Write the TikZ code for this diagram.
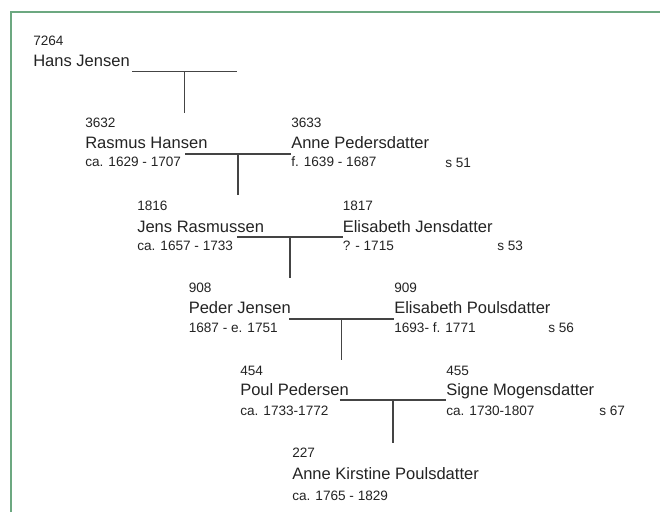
\documentclass[tikz,border=0pt]{standalone}
\usepackage{fontspec}
\setmainfont{Liberation Sans}
\usetikzlibrary{calc}
\definecolor{framegreen}{RGB}{108,168,128}
\definecolor{inkgray}{RGB}{35,35,35}
\tikzset{
  idnum/.style={anchor=base west,inner sep=0pt,font=\fontsize{10.2}{12}\selectfont,text=inkgray},
  person/.style={anchor=base west,inner sep=0pt,font=\fontsize{12.4}{14}\selectfont,text=inkgray},
  lifespan/.style={idnum},
  spage/.style={idnum},
  tline/.style={draw=inkgray!85,line width=1.3pt}
}
\begin{document}
\begin{tikzpicture}[x=0.75pt,y=-0.75pt]
\useasboundingbox (0,0) rectangle (660,512);
\draw[framegreen,line width=1.5pt] (11,512) -- (11,12) -- (660,12);

% generation 1
\node[idnum] (n7264) at (33,45) {7264};
\node[person] (p7264) at (33,66) {Hans Jensen};
\coordinate (l7264) at (132,71.5);
\coordinate (r7264) at (237,71.5);

% generation 2
\node[idnum] (n3632) at (85,127.5) {3632};
\node[person] (p3632) at (85,148.5) {Rasmus Hansen};
\node[lifespan] (d3632) at (85,166.5) {ca. 1629 - 1707};
\node[idnum] (n3633) at (291,127.5) {3633};
\node[person] (p3633) at (291,148.5) {Anne Pedersdatter};
\node[lifespan] (d3633) at (291,166.5) {f. 1639 - 1687};
\node[spage] (s3633) at (445,167.5) {s 51};
\coordinate (l3632) at (185,154);

% generation 3
\node[idnum] (n1816) at (137,210) {1816};
\node[person] (p1816) at (137,232) {Jens Rasmussen};
\node[lifespan] (d1816) at (137,250) {ca. 1657 - 1733};
\node[idnum] (n1817) at (342.5,210) {1817};
\node[person] (p1817) at (342.5,232) {Elisabeth Jensdatter};
\node[lifespan] (d1817) at (342.5,250) {? - 1715};
\node[spage] (s1817) at (497,250) {s 53};
\coordinate (l1816) at (237,237);

% generation 4
\node[idnum] (n908) at (188.5,292.5) {908};
\node[person] (p908) at (188.5,313.5) {Peder Jensen};
\node[lifespan] (d908) at (188.5,332) {1687 - e. 1751};
\node[idnum] (n909) at (394,292.5) {909};
\node[person] (p909) at (394,313.5) {Elisabeth Poulsdatter};
\node[lifespan] (d909) at (394,332) {1693- f. 1771};
\node[spage] (s909) at (548,332.5) {s 56};
\coordinate (l908) at (289,319);

% generation 5
\node[idnum] (n454) at (240,375) {454};
\node[person] (p454) at (240,395.5) {Poul Pedersen};
\node[lifespan] (d454) at (240,415) {ca. 1733-1772};
\node[idnum] (n455) at (446,375) {455};
\node[person] (p455) at (446,395.5) {Signe Mogensdatter};
\node[lifespan] (d455) at (446,415) {ca. 1730-1807};
\node[spage] (s455) at (599,415) {s 67};
\coordinate (l454) at (339.5,400);

% generation 6
\node[idnum] (n227) at (292,457.5) {227};
\node[person] (p227) at (292,479) {Anne Kirstine Poulsdatter};
\node[lifespan] (d227) at (292,500) {ca. 1765 - 1829};

% couples and descent
\draw[tline] (l7264) -- coordinate[pos=.5] (m7264) (r7264);
\draw[tline] (m7264) -- ($(m7264 |- n3632.north)+(0,-5)$);
\draw[tline] (l3632) -- coordinate[pos=.5] (m3632) (p3633.west |- l3632);
\draw[tline] (m3632) -- ($(m3632 |- n1816.north)+(0,-5)$);
\draw[tline] (l1816) -- coordinate[pos=.5] (m1816) (p1817.west |- l1816);
\draw[tline] (m1816) -- ($(m1816 |- n908.north)+(0,-5)$);
\draw[tline] (l908) -- coordinate[pos=.5] (m908) (p909.west |- l908);
\draw[tline] (m908) -- ($(m908 |- n454.north)+(0,-5)$);
\draw[tline] (l454) -- coordinate[pos=.5] (m454) (p455.west |- l454);
\draw[tline] (m454) -- ($(m454 |- n227.north)+(0,-5)$);
\end{tikzpicture}
\end{document}
